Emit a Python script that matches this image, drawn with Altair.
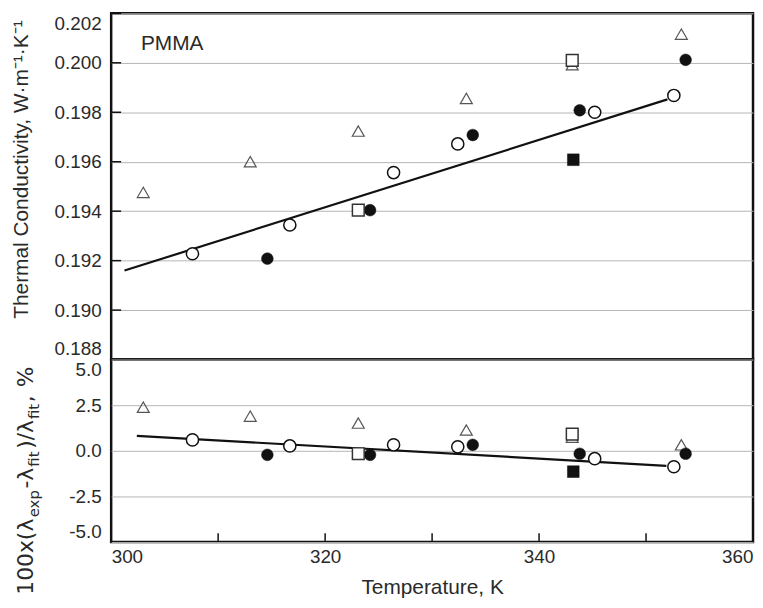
import altair as alt
import pandas as pd

# ---- data ----
tri_T = [303.0, 313.0, 323.1, 333.2, 343.1, 353.3]
tri_k = [0.19476, 0.19600, 0.19724, 0.19856, 0.19992, 0.20116]
tri_dev = [2.39, 1.90, 1.52, 1.14, 0.75, 0.33]

ocirc_T = [307.6, 316.7, 326.4, 332.4, 345.2, 352.6]
ocirc_k = [0.19228, 0.19344, 0.19556, 0.19672, 0.19800, 0.19868]
ocirc_dev = [0.60, 0.27, 0.33, 0.22, -0.43, -0.87]

fcirc_T = [314.6, 324.2, 333.8, 343.8, 353.7]
fcirc_k = [0.19208, 0.19404, 0.19708, 0.19808, 0.20012]
fcirc_dev = [-0.22, -0.22, 0.33, -0.16, -0.16]

osq_T = [323.1, 343.1]
osq_k = [0.19404, 0.20010]
osq_dev = [-0.16, 0.92]

fsq_T = [343.2]
fsq_k = [0.19608]
fsq_dev = [-1.14]

fit_T = [301.25, 352.0]
fit_k = [0.1916, 0.19852]
devfit_T = [302.4, 351.9]
devfit = [0.82, -0.82]

x_labels = [300, 320, 340, 360]
x_minor = [310, 320, 330, 340, 350]
k_ticks = [0.188, 0.190, 0.192, 0.194, 0.196, 0.198, 0.200, 0.202]
dev_ticks = [-5.0, -2.5, 0.0, 2.5, 5.0]
panel_label = ["PMMA"]
dev_title_parts = ["100x(λ", "exp", "-λ", "fit", ")/λ", "fit", " ,", "%"]

FONT = "Liberation Sans"
TXT = "#2a2a2a"
W, H1, H2 = 647, 349, 184

xs = alt.Scale(domain=[300, 360], nice=False, zero=False)
ks = alt.Scale(domain=[0.188, 0.202], nice=False, zero=False)
ds = alt.Scale(domain=[-5, 5], nice=False, zero=False)

k_axis = alt.Axis(values=k_ticks, format=".3f", grid=True, gridColor="#b5b5b5", gridWidth=1,
                  ticks=False, domain=False, labelFlush=True, labelFlushOffset=-1,
                  labelFont=FONT, labelFontSize=19, labelColor=TXT, labelPadding=10,
                  title="Thermal Conductivity, W·m⁻¹·K⁻¹", titleFont=FONT, titleFontSize=21,
                  titleFontWeight="normal", titleColor=TXT, titleAngle=270, titleX=-80, titleY=157,
                  titleBaseline="bottom", titleAlign="center")
d_axis = alt.Axis(values=dev_ticks, grid=True, gridColor="#b5b5b5", gridWidth=1, ticks=False,
                  domain=False, labelFlush=True, labelFlushOffset=-1, labelFont=FONT,
                  labelFontSize=19, labelColor=TXT, labelPadding=10,
                  labelExpr="datum.value < 0 ? '-' + format(-datum.value, '.1f') : format(datum.value, '.1f')",
                  title=None)
x_axis = alt.Axis(values=x_labels, format="d", grid=False, ticks=False, domain=False,
                  labelFlush=True, labelFont=FONT, labelFontSize=19, labelColor=TXT, labelPadding=6,
                  title="Temperature, K", titleFont=FONT, titleFontSize=21, titleFontWeight="normal",
                  titleColor=TXT, titleBaseline="alphabetic", titlePadding=27)


def df(T, v, name):
    return pd.DataFrame({"T": T, name: v})


def top_layer(T, v, mark):
    return alt.Chart(df(T, v, "k")).mark_point(**mark).encode(
        x=alt.X("T:Q", scale=xs, axis=None),
        y=alt.Y("k:Q", scale=ks, axis=k_axis))


def bot_layer(T, v, mark):
    return alt.Chart(df(T, v, "d")).mark_point(**mark).encode(
        x=alt.X("T:Q", scale=xs, axis=x_axis),
        y=alt.Y("d:Q", scale=ds, axis=d_axis))


tri_m = dict(shape="triangle-up", size=145, filled=False, stroke="#555", strokeWidth=1.2, opacity=1)
oc_m = dict(shape="circle", size=150, filled=True, fill="white", stroke="#111", strokeWidth=1.5, opacity=1)
fc_m = dict(shape="circle", size=140, filled=True, fill="#111", stroke="#111", strokeWidth=0.5, opacity=1)
os_m = dict(shape="square", size=140, filled=True, fill="white", stroke="#333", strokeWidth=1.5, opacity=1)
fs_m = dict(shape="square", size=140, filled=True, fill="#111", stroke="#111", strokeWidth=0.5, opacity=1)

# ---- top panel ----
top_fit = alt.Chart(df(fit_T, fit_k, "k")).mark_line(color="#111", strokeWidth=2.2).encode(
    x=alt.X("T:Q", scale=xs, axis=None), y=alt.Y("k:Q", scale=ks, axis=k_axis))
top_ticks = alt.Chart(pd.DataFrame({"k": k_ticks})).mark_rule(color="#111", strokeWidth=1.5).encode(
    y=alt.Y("k:Q", scale=ks, axis=k_axis), x=alt.value(0), x2=alt.value(10))
top_text = alt.Chart(pd.DataFrame({"t": panel_label})).mark_text(
    font=FONT, fontSize=21, color=TXT, align="left", baseline="alphabetic").encode(
    x=alt.value(30), y=alt.value(37), text="t:N")

top = alt.layer(
    top_ticks, top_fit,
    top_layer(tri_T, tri_k, tri_m),
    top_layer(ocirc_T, ocirc_k, oc_m),
    top_layer(fcirc_T, fcirc_k, fc_m),
    top_layer(osq_T, osq_k, os_m),
    top_layer(fsq_T, fsq_k, fs_m),
    top_text,
).properties(width=W, height=H1)

# ---- bottom panel ----
bot_fit = alt.Chart(df(devfit_T, devfit, "d")).mark_line(color="#111", strokeWidth=2.2).encode(
    x=alt.X("T:Q", scale=xs, axis=x_axis), y=alt.Y("d:Q", scale=ds, axis=d_axis))
bot_ticks = alt.Chart(pd.DataFrame({"T": x_minor})).mark_rule(color="#111", strokeWidth=1.5).encode(
    x=alt.X("T:Q", scale=xs, axis=x_axis), y=alt.value(H2 - 9), y2=alt.value(H2))


def seg(i, xpos, ypos, size):
    return alt.Chart(pd.DataFrame({"t": [dev_title_parts[i]]})).mark_text(
        font="DejaVu Sans", fontSize=size, color=TXT, angle=270, align="left",
        baseline="alphabetic").encode(x=alt.value(xpos), y=alt.value(ypos), text="t:N")


MAIN, SUB = 22, 15
XM, XS = -79, -73
title_marks = [
    seg(0, XM, 237, MAIN),
    seg(1, XS, 159, SUB),
    seg(2, XM, 130, MAIN),
    seg(3, XS, 108, SUB),
    seg(4, XM, 90, MAIN),
    seg(5, XS, 60, SUB),
    seg(6, XM, 43, MAIN),
    seg(7, XM, 28, MAIN),
]

bottom = alt.layer(
    bot_ticks, bot_fit,
    bot_layer(tri_T, tri_dev, tri_m),
    bot_layer(ocirc_T, ocirc_dev, oc_m),
    bot_layer(fcirc_T, fcirc_dev, fc_m),
    bot_layer(osq_T, osq_dev, os_m),
    bot_layer(fsq_T, fsq_dev, fs_m),
    *title_marks,
).properties(width=W, height=H2)

chart = alt.vconcat(top, bottom, spacing=0, bounds="flush").properties(
    padding={"left": 1, "top": 1, "right": 0, "bottom": 0},
    background="white",
).configure_view(stroke="#111", strokeWidth=2.5)

chart.save("out.html", embed_options={"renderer": "svg", "actions": False})
